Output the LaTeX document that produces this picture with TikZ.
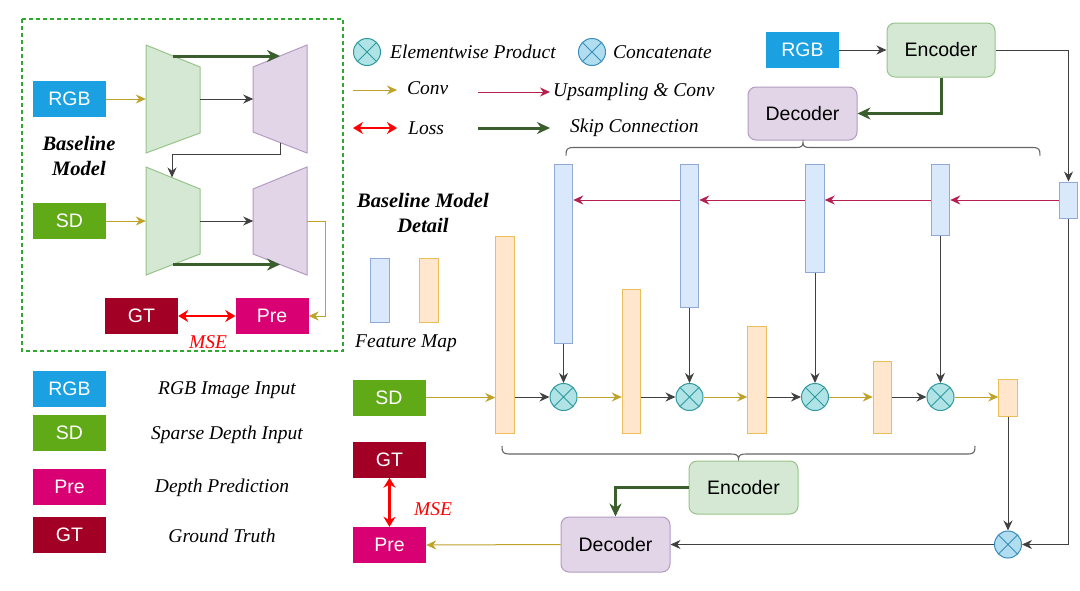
\documentclass[tikz,border=0pt]{standalone}
\usepackage{fontspec}
\setmainfont{Liberation Serif}
\newfontfamily\boxfont{Liberation Sans}
\usetikzlibrary{arrows.meta,calc}
\definecolor{rgbblue}{HTML}{1BA1E2}
\definecolor{sdgreen}{HTML}{60A917}
\definecolor{prepink}{HTML}{D80073}
\definecolor{gtred}{HTML}{A20025}
\definecolor{encfill}{HTML}{D5E8D4}
\definecolor{encdraw}{HTML}{97C48A}
\definecolor{decfill}{HTML}{E1D5E7}
\definecolor{decdraw}{HTML}{B39BC2}
\definecolor{fmbfill}{HTML}{DAE8FC}
\definecolor{fmbdraw}{HTML}{8FAAD6}
\definecolor{fmofill}{HTML}{FFE6CC}
\definecolor{fmodraw}{HTML}{EBBE5A}
\definecolor{goldc}{HTML}{BFA22A}
\definecolor{crimson}{HTML}{B5204E}
\definecolor{skipgreen}{HTML}{3A5E2C}
\definecolor{tealfill}{HTML}{B0E3E6}
\definecolor{tealdraw}{HTML}{2E9AA0}
\definecolor{catfill}{HTML}{B1DDF0}
\definecolor{catdraw}{HTML}{3A8DBA}
\definecolor{dashgreen}{HTML}{2EA82E}
\definecolor{lineg}{HTML}{404040}
\tikzset{
  colbox/.style={rectangle, minimum width=73pt, minimum height=36pt, inner sep=0pt, text=white, font=\boxfont\fontsize{19.5}{20}\selectfont},
  rgbbox/.style={colbox, fill=rgbblue},
  sdbox/.style={colbox, fill=sdgreen},
  prebox/.style={colbox, fill=prepink},
  gtbox/.style={colbox, fill=gtred},
  roundbox/.style={rectangle, rounded corners=8pt, line width=1pt, minimum width=108pt, minimum height=54pt, inner sep=0pt, font=\boxfont\fontsize{19.5}{20}\selectfont},
  encbox/.style={roundbox, fill=encfill, draw=encdraw},
  decbox/.style={roundbox, fill=decfill, draw=decdraw},
  fmb/.style={rectangle, fill=fmbfill, draw=fmbdraw, line width=1pt, minimum width=18.5pt, inner sep=0pt, minimum height=#1},
  fmo/.style={rectangle, fill=fmofill, draw=fmodraw, line width=1pt, minimum width=18.5pt, inner sep=0pt, minimum height=#1},
  xcross/.style={path picture={\draw[#1, line width=1pt] (path picture bounding box.north west) -- (path picture bounding box.south east) (path picture bounding box.north east) -- (path picture bounding box.south west);}},
  prod/.style={circle, minimum size=27pt, inner sep=0pt, fill=tealfill, draw=tealdraw, line width=1pt, xcross=tealdraw},
  cat/.style={circle, minimum size=27pt, inner sep=0pt, fill=catfill, draw=catdraw, line width=1pt, xcross=catdraw},
  trapinv/.style={inner sep=0pt, minimum width=54pt, minimum height=108pt},
  convarr/.style={draw=goldc, line width=1pt, -{Stealth[length=10pt,width=9pt]}},
  blkarr/.style={draw=lineg, line width=1pt, -{Stealth[length=10pt,width=9pt]}},
  upsarr/.style={draw=crimson, line width=1pt, -{Stealth[length=10pt,width=9pt]}},
  skiparr/.style={draw=skipgreen, line width=3pt, -{Stealth[length=13pt,width=12pt]}},
  lossarr/.style={draw=red, line width=2.6pt, {Stealth[length=10pt,width=12pt]}-{Stealth[length=10pt,width=12pt]}},
  lbl/.style={font=\itshape\fontsize{19.5}{22}\selectfont, inner sep=0pt},
  ttl/.style={font=\bfseries\itshape\fontsize{20.5}{25}\selectfont, align=center, inner sep=0pt},
  bracepath/.style={draw=black!60, line width=1.1pt},
}
\begin{document}
\begin{tikzpicture}[x=1pt,y=-1pt]
\useasboundingbox[fill=white] (0,0) rectangle (1080,590);

% ===== Left panel: Baseline Model =====
\draw[dashgreen, line width=1.3pt, dash pattern=on 4pt off 3pt] (22,19) rectangle (343,351);

\node[rgbbox] (rgbA) at (69.5,99) {RGB};
\node[sdbox] (sdA) at (69.5,221) {SD};

\filldraw[fill=encfill, draw=encdraw, line width=1pt] (146,45) -- (200,67) -- (200,133) -- (146,153) -- cycle;
\filldraw[fill=decfill, draw=decdraw, line width=1pt] (253,67) -- (307,45) -- (307,153) -- (253,132) -- cycle;
\filldraw[fill=encfill, draw=encdraw, line width=1pt] (146,167) -- (200,189) -- (200,254) -- (146,275) -- cycle;
\filldraw[fill=decfill, draw=decdraw, line width=1pt] (253,189) -- (307,167) -- (307,275) -- (253,254) -- cycle;
\node[trapinv] (encA1) at (173,99) {};
\node[trapinv] (decA1) at (280,99) {};
\node[trapinv] (encA2) at (173,221) {};
\node[trapinv] (decA2) at (280,221) {};
\coordinate (skA1s) at (173,56);
\coordinate (skA1e) at (280,56);
\coordinate (skA2s) at (173,264.5);
\coordinate (skA2e) at (280,264.5);
\coordinate (dA1b) at (280,142.5);
\coordinate (eA2t) at (172,177.5);
\coordinate (dA2r) at (307,221);

\draw[convarr] (rgbA.east) -- (encA1.west);
\draw[blkarr] (encA1.east) -- ++(53,0);
\draw[skiparr] (skA1s) -- (skA1e);
\draw[blkarr] (dA1b) -- ++(0,11.5) -| (eA2t);
\draw[convarr] (sdA.east) -- (encA2.west);
\draw[blkarr] (encA2.east) -- ++(53,0);
\draw[skiparr] (skA2s) -- (skA2e);

\node[ttl] (titleA) at (79,155.5) {Baseline\\Model};

\node[gtbox] (gtA) at (141.5,316) {GT};
\node[prebox] (preA) at (272,316) {Pre};
\draw[convarr] (dA2r) -- ++(18,0) |- (preA.east);
\draw[lossarr] (gtA.east) -- (preA.west);
\node[lbl, text=red] (mseA) at (208,342) {MSE};

% ===== Lower-left legend =====
\node[rgbbox] (lgRGB) at (69.5,388.5) {RGB};
\node[sdbox] (lgSD) at (69.5,433) {SD};
\node[prebox] (lgPre) at (69.5,487) {Pre};
\node[gtbox] (lgGT) at (69.5,535) {GT};
\node[lbl] (lgRGBt) at (227,390) {RGB Image Input};
\node[lbl] (lgSDt) at (227,435) {Sparse Depth Input};
\node[lbl] (lgPret) at (222,488) {Depth Prediction};
\node[lbl] (lgGTt) at (222,536) {Ground Truth};

% ===== Top legend =====
\node[prod] (lgProd) at (367,52) {};
\node[lbl, anchor=west] (lgProdt) at (390,52) {Elementwise Product};
\node[cat] (lgCat) at (592,52) {};
\node[lbl, anchor=west] (lgCatt) at (613,52) {Concatenate};
\coordinate (lgc1) at (353,90); \coordinate (lgc2) at (397,90);
\draw[convarr] (lgc1) -- (lgc2);
\node[lbl, anchor=west] (lgConv) at (407,88) {Conv};
\coordinate (lgu1) at (478,92); \coordinate (lgu2) at (550,92);
\draw[upsarr] (lgu1) -- (lgu2);
\node[lbl, anchor=west] (lgUps) at (553,92) {Upsampling \& Conv};
\coordinate (lgl1) at (353,128); \coordinate (lgl2) at (397,128);
\draw[lossarr] (lgl1) -- (lgl2);
\node[lbl, anchor=west] (lgLoss) at (408,128) {Loss};
\coordinate (lgs1) at (478,128); \coordinate (lgs2) at (550,128);
\draw[skiparr] (lgs1) -- (lgs2);
\node[lbl, anchor=west] (lgSkip) at (570,128) {Skip Connection};

% ===== Detail title and feature map legend =====
\node[ttl] (titleB) at (423,213) {Baseline Model\\Detail};
\node[fmb=64pt] (lgFmb) at (380,290) {};
\node[fmo=64pt] (lgFmo) at (429,290) {};
\node[lbl] (lgFm) at (406,343) {Feature Map};

% ===== Top right encoder/decoder =====
\node[rgbbox] (rgbB) at (802.5,50) {RGB};
\node[encbox] (encT) at (941,50) {Encoder};
\node[decbox, minimum width=109pt, minimum height=53pt] (decT) at (802.5,113.5) {Decoder};
\draw[blkarr] (rgbB.east) -- (encT.west);
\draw[skiparr] (encT.south) |- (decT.east);

% decoder feature maps
\node[fmb=36pt] (b5) at (1068.5,200) {};
\node[fmb=71pt] (b4) at (940.5,199.5) {};
\node[fmb=108pt] (b3) at (815,218) {};
\node[fmb=143pt] (b2) at (689.5,235.5) {};
\node[fmb=179pt] (b1) at (563.5,253.5) {};
\draw[blkarr] (encT.east) -| (b5.north);
\draw[upsarr] (b5.west) -- (b5.west -| b4.east);
\draw[upsarr] (b5.west -| b4.west) -- (b5.west -| b3.east);
\draw[upsarr] (b5.west -| b3.west) -- (b5.west -| b2.east);
\draw[upsarr] (b5.west -| b2.west) -- (b5.west -| b1.east);

% brace above decoder maps
\draw[bracepath] (566,155.5) .. controls (566,149) and (567,147.5) .. (574,147.5) -- (796,147.5) .. controls (801,147.5) and (803,146.5) .. (803,142.5) .. controls (803,146.5) and (805,147.5) .. (810,147.5) -- (1032,147.5) .. controls (1039,147.5) and (1040,149) .. (1040,155.5);

% encoder feature maps
\node[fmo=197pt] (o1) at (505,334.5) {};
\node[fmo=144pt] (o2) at (631.5,361) {};
\node[fmo=107pt] (o3) at (757,379.5) {};
\node[fmo=72pt] (o4) at (882.5,397) {};
\node[fmo=37pt] (o5) at (1008,397.5) {};
\node[sdbox] (sdB) at (389,397.5) {SD};

\node[prod] (x1) at (563.5,397) {};
\node[prod] (x2) at (689.5,397) {};
\node[prod] (x3) at (815,397) {};
\node[prod] (x4) at (940.5,397) {};

\draw[convarr] (sdB.east) -- (sdB.east -| o1.west);
\draw[blkarr] (x1.west -| o1.east) -- (x1.west);
\draw[convarr] (x1.east) -- (x1.east -| o2.west);
\draw[blkarr] (x2.west -| o2.east) -- (x2.west);
\draw[convarr] (x2.east) -- (x2.east -| o3.west);
\draw[blkarr] (x3.west -| o3.east) -- (x3.west);
\draw[convarr] (x3.east) -- (x3.east -| o4.west);
\draw[blkarr] (x4.west -| o4.east) -- (x4.west);
\draw[convarr] (x4.east) -- (x4.east -| o5.west);

\draw[blkarr] (b1.south) -- (x1.north);
\draw[blkarr] (b2.south) -- (x2.north);
\draw[blkarr] (b3.south) -- (x3.north);
\draw[blkarr] (b4.south) -- (x4.north);

% brace under encoder maps
\draw[bracepath] (502,446) .. controls (502,452.5) and (503,454) .. (510,454) -- (731,454) .. controls (736,454) and (738.5,455) .. (738.5,459) .. controls (738.5,455) and (741,454) .. (746,454) -- (967,454) .. controls (974,454) and (975,452.5) .. (975,446);

% ===== Bottom encoder/decoder =====
\node[encbox, minimum width=109pt, minimum height=53pt] (encB) at (743.5,487.5) {Encoder};
\node[decbox, minimum width=109pt, minimum height=55pt] (decB) at (615.5,544.5) {Decoder};
\draw[skiparr] (encB.west) -| (decB.north);

\node[cat] (catB) at (1008,544.5) {};
\draw[blkarr] (o5.south) -- (catB.north);
\draw[blkarr] (b5.south) |- (catB.east);
\draw[blkarr] (catB.west) -- (decB.east);

\node[gtbox] (gtB) at (389.5,459.5) {GT};
\node[prebox] (preB) at (389.5,545) {Pre};
\draw[convarr] (decB.west) -- (preB.east);
\draw[lossarr] (gtB.south) -- (preB.north);
\node[lbl, text=red] (mseB) at (433,509) {MSE};
\end{tikzpicture}
\end{document}
